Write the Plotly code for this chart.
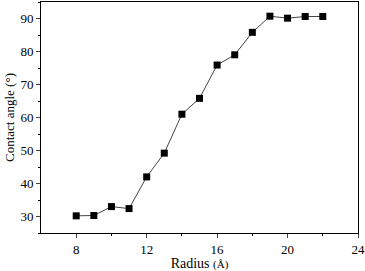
import plotly.graph_objects as go

radius = [8, 9, 10, 11, 12, 13, 14, 15, 16, 17, 18, 19, 20, 21, 22]
contact_angle = [30.2, 30.3, 33.0, 32.4, 42.0, 49.2, 61.0, 65.8, 75.9, 79.0, 85.8, 90.7, 90.1, 90.6, 90.6]
x_ticks = [8, 12, 16, 20, 24]
y_ticks = [30, 40, 50, 60, 70, 80, 90]

fig = go.Figure()
fig.add_trace(go.Scatter(
    x=radius, y=contact_angle, mode="lines+markers",
    line=dict(color="#444444", width=1),
    marker=dict(symbol="square", size=7, color="black"),
    showlegend=False,
    cliponaxis=False,
))

serif = "Liberation Serif, Times New Roman, serif"
font = dict(family=serif, size=13, color="black")
fig.update_layout(
    width=365, height=271,
    margin=dict(l=41, r=7, t=2, b=38, autoexpand=False),
    paper_bgcolor="white", plot_bgcolor="white",
    font=font,
)
fig.update_xaxes(
    range=[6, 24], tickvals=x_ticks, ticks="outside", ticklen=4, tickwidth=1,
    showline=True, linecolor="black", linewidth=1, mirror=True, showgrid=False, zeroline=False,
    minor=dict(tickvals=[10, 14, 18, 22], ticks="outside", ticklen=2, tickcolor="black"),
    title=dict(text="Radius <span style='font-size:11px'>(Å)</span>", font=dict(family=serif, size=14), standoff=2),
    tickfont=dict(family=serif, size=13),
    automargin=False,
)
fig.update_yaxes(
    range=[25, 95], tickvals=y_ticks, ticks="outside", ticklen=4, tickwidth=1,
    showline=True, linecolor="black", linewidth=1, mirror=True, showgrid=False, zeroline=False,
    minor=dict(tickvals=[25, 35, 45, 55, 65, 75, 85, 95], ticks="outside", ticklen=2, tickcolor="black"),
    title=dict(text="Contact angle (°)", font=dict(family=serif, size=13), standoff=2),
    tickfont=dict(family=serif, size=13),
    automargin=False,
)
fig.write_html("out.html", config={"displayModeBar": False},
               post_script="document.body.style.margin='0';document.body.style.overflow='hidden';")
